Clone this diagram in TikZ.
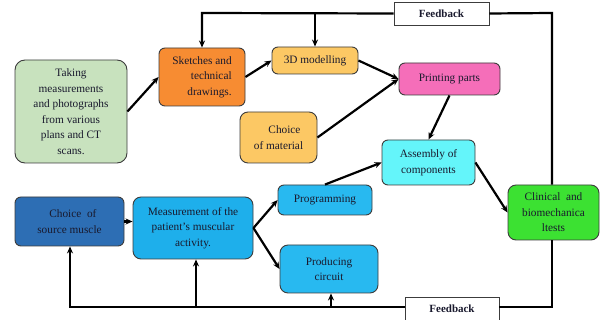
\documentclass[tikz,border=0pt]{standalone}
\usepackage{fontspec}
\setmainfont{Liberation Serif}
\usetikzlibrary{arrows.meta}
\definecolor{cTake}{RGB}{200,226,190}
\definecolor{cSketch}{RGB}{247,140,50}
\definecolor{cModel}{RGB}{252,200,100}
\definecolor{cPrint}{RGB}{245,110,185}
\definecolor{cAsm}{RGB}{100,245,250}
\definecolor{cClin}{RGB}{60,225,50}
\definecolor{cProg}{RGB}{40,185,240}
\definecolor{cSrc}{RGB}{45,110,180}
\definecolor{cMeas}{RGB}{30,175,235}
\definecolor{cBorder}{RGB}{60,60,60}
\definecolor{cText}{RGB}{25,25,45}
\tikzset{
  box/.style={draw=cBorder, line width=0.9pt, rounded corners=6pt, align=center,
    inner sep=2pt, text=cText, font=\fontsize{11.3}{15.5}\selectfont},
  fbbox/.style={draw=cBorder, line width=0.8pt, fill=white, inner sep=0pt,
    font=\fontsize{11}{13}\selectfont\bfseries, text=cText},
  arr/.style={line width=2.2pt, -{Stealth[length=7pt,width=6pt]}},
  fbline/.style={line width=2.2pt},
}
\begin{document}
\begin{tikzpicture}[x=1pt,y=-1pt]
\useasboundingbox (0,0) rectangle (600,320);
% nodes
\node[box, fill=cTake, rounded corners=10pt, minimum width=112pt, minimum height=103pt] (take) at (71,111.5)
  {Taking\\measurements\\and photographs\\from various\\plans and CT\\scans.};
\node[box, fill=cSketch, minimum width=86pt, minimum height=58pt, align=right] (sketch) at (202,77)
  {Sketches and\\technical\\drawings.};
\node[box, fill=cModel, minimum width=86pt, minimum height=27pt] (model) at (315,60.5) {3D modelling};
\node[box, fill=cModel, rounded corners=8pt, minimum width=77pt, minimum height=51pt] (material) at (278.5,137.5)
  {\hspace*{12pt}Choice\\of material};
\node[box, fill=cPrint, minimum width=101pt, minimum height=32pt] (print) at (449.5,79) {Printing parts};
\node[box, fill=cAsm, minimum width=93pt, minimum height=45pt] (asm) at (428.5,162.5) {Assembly of\\components};
\node[box, fill=cClin, rounded corners=8pt, minimum width=91pt, minimum height=55pt] (clin) at (553.5,212.5)
  {Clinical\ \ and\\biomechanica\\ltests};
\node[box, fill=cProg, minimum width=94pt, minimum height=30pt] (prog) at (325,200) {Programming};
\node[box, fill=cProg, rounded corners=8pt, minimum width=98pt, minimum height=48pt] (circ) at (329,269) {Producing\\circuit};
\node[box, fill=cSrc, minimum width=109pt, minimum height=49pt, align=left] (src) at (69.5,221.5)
  {\hspace*{12pt}Choice\ \ of\\source muscle};
\node[box, fill=cMeas, rounded corners=8pt, minimum width=120pt, minimum height=62pt] (meas) at (193,228)
  {Measurement of the\\patient's muscular\\activity.};
\node[fbbox, minimum width=95pt, minimum height=23pt] (fb1) at (441.5,13.5) {Feedback};
\node[fbbox, minimum width=94pt, minimum height=24pt] (fb2) at (452,309) {Feedback};
% feedback loop coordinates
\coordinate (tr) at (552,13);
\coordinate (tl) at (202,13);
\coordinate (br) at (552,307);
\coordinate (bl) at (70,307);
\coordinate (bm) at (196,307);
\coordinate (bc) at (331,307);
% top feedback
\draw[fbline] (clin.north -| tr) -- (tr) -- (fb1.east);
\draw[arr] (fb1.west) -- (tl) -- (sketch.north);
\draw[arr] (model.north |- tl) -- (model.north);
% bottom feedback
\draw[fbline] (clin.south -| br) -- (br) -- (fb2.east |- br);
\draw[arr] (fb2.west |- bl) -- (bl) -- (src.south -| bl);
\draw[arr] (bm) -- (meas.south -| bm);
\draw[arr] (bc) -- (circ.south -| bc);
% process arrows
\draw[arr] (take.east) -- (sketch.west);
\draw[arr] (sketch.east) -- (model.west);
\draw[arr] (model.east) -- (print.west);
\draw[arr] (material.east) -- (print.west);
\draw[arr] (print.south) -- (asm.north);
\draw[arr] (prog.north) -- (asm.west);
\draw[arr] (asm.east) -- (clin.west);
\draw[arr] (src.east) -- (src.east -| meas.west);
\draw[arr] (meas.east) -- (prog.west);
\draw[arr] (meas.east) -- (circ.west);
\end{tikzpicture}
\end{document}
